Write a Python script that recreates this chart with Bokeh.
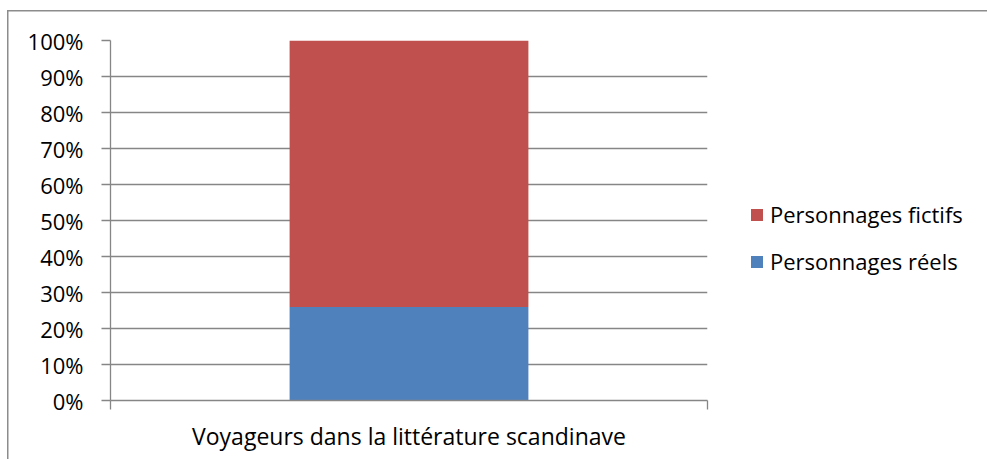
from bokeh.plotting import figure
from bokeh.models import (Range1d, FixedTicker, NumeralTickFormatter, Legend, LegendItem,
                          ColumnDataSource)
from bokeh.embed import file_html
from bokeh.resources import INLINE

categories = ["Voyageurs dans la littérature scandinave"]
series_names = ["Personnages réels", "Personnages fictifs"]
reels = [0.26]
fictifs = [0.74]
colors = ["#4F81BD", "#C0504D"]
y_ticks = [0, 0.1, 0.2, 0.3, 0.4, 0.5, 0.6, 0.7, 0.8, 0.9, 1.0]

FONT = "Open Sans"
GRID = "#868686"
BORDER = "#8c8c8c"

bg = (f"linear-gradient({BORDER},{BORDER}) 7px 10px / 1.5px 100% no-repeat, "
      f"linear-gradient({BORDER},{BORDER}) 7px 10px / 100% 1.5px no-repeat, white")

p = figure(frame_width=597, frame_height=360, output_backend="svg", toolbar_location=None,
           x_range=Range1d(0, len(categories)), y_range=Range1d(0, 1),
           min_border_left=110, min_border_top=40, min_border_right=280, min_border_bottom=59,
           styles={"background": bg})
p.outline_line_color = None
p.background_fill_color = "white"
p.border_fill_alpha = 0

xs = [i + 0.5 for i in range(len(categories))]
src = ColumnDataSource(dict(x=xs, reels=reels, fictifs=fictifs))
stack = p.vbar_stack(["reels", "fictifs"], x="x", width=0.4, source=src,
                     color=colors, line_color=None)

# y axis
ya = p.yaxis[0]
ya.ticker = FixedTicker(ticks=y_ticks)
ya.formatter = NumeralTickFormatter(format="0%")
ya.axis_line_color = GRID
ya.axis_line_width = 1.3
ya.major_tick_line_color = GRID
ya.major_tick_line_width = 1.3
ya.major_tick_out = 9
ya.major_tick_in = 0
ya.minor_tick_line_color = None
ya.major_label_standoff = 18
ya.major_label_text_font = FONT
ya.major_label_text_font_size = "22px"
ya.major_label_text_color = "black"

# x axis
xa = p.xaxis[0]
xa.ticker = FixedTicker(ticks=[0, len(categories)])
xa.major_label_overrides = {0: "", len(categories): ""}
xa.major_label_text_font_size = "1px"
xa.axis_line_color = GRID
xa.axis_line_width = 1.3
xa.major_tick_line_color = GRID
xa.major_tick_line_width = 1.3
xa.major_tick_out = 9
xa.major_tick_in = 0
xa.minor_tick_line_color = None
xa.axis_label = categories[0]
xa.axis_label_text_font = FONT
xa.axis_label_text_font_size = "23px"
xa.axis_label_text_font_style = "normal"
xa.axis_label_text_color = "black"
xa.axis_label_standoff = 10

p.xgrid.grid_line_color = None
p.ygrid.ticker = FixedTicker(ticks=y_ticks)
p.ygrid.grid_line_color = GRID
p.ygrid.grid_line_width = 1.3

legend = Legend(items=[LegendItem(label=series_names[1], renderers=[stack[1]]),
                       LegendItem(label=series_names[0], renderers=[stack[0]])],
                location=(42, 124), orientation="vertical",
                label_text_font=FONT, label_text_font_size="22px",
                label_text_color="black", glyph_width=15, glyph_height=15,
                label_height=20, spacing=17, label_standoff=6,
                padding=0, margin=0, border_line_color=None, background_fill_alpha=0)
p.add_layout(legend, "right")

open("out.html", "w").write(file_html(p, INLINE))
